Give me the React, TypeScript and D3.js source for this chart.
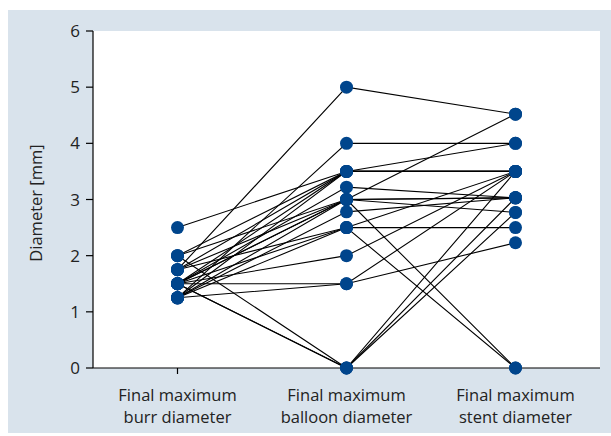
import React from "react";
import * as d3 from "d3";

const categories = ["Final maximum|burr diameter", "Final maximum|balloon diameter", "Final maximum|stent diameter"];
const burr = [1.75, 1.25, 2.5, 2.0, 1.5, 1.25, 1.75, 1.5, 1.25, 2.0, 1.5, 1.75, 1.5, 1.25, 1.5, 1.25, 1.75, 1.5, 1.5, 1.25, 2.0, 1.5, 1.5];
const balloon = [5, 4, 3.5, 3.5, 3.5, 3.5, 3.5, 3.22, 3.0, 3.0, 3.0, 3.0, 3.0, 2.78, 2.5, 2.5, 2.5, 2.0, 1.5, 1.5, 0, 0, 0];
const stent = [4.52, 4.0, 4.0, 3.5, 3.5, 3.5, 3.5, 3.03, 4.52, 3.03, 3.03, 2.77, 0, 3.03, 2.5, 3.5, 0, 3.5, 2.23, 3.5, 3.5, 3.03, 2.77];
const yTicks = [0, 1, 2, 3, 4, 5, 6];

export default function App() {
  const W = 611, H = 436;
  const x = d3.scalePoint<string>().domain(categories).range([93, 600]).padding(0.5);
  const y = d3.scaleLinear().domain([0, 6]).range([368, 31]);
  const series = [burr, balloon, stent];
  const line = d3.line<[number, number]>().x(d => d[0]).y(d => d[1]);
  const patients = burr.map((_, i) => series.map((s, j) => [x(categories[j])!, y(s[i])] as [number, number]));
  const font = "'Open Sans', 'Noto Sans', sans-serif";
  return (
    <svg width={W} height={H} style={{ position: "absolute", left: 0, top: 0 }} fontFamily={font}>
      <rect x={8} y={10} width={603} height={423} fill="#d9e3ec" />
      <rect x={93} y={31} width={507} height={337} fill="#ffffff" />
      <line x1={93} x2={93} y1={31} y2={368} stroke="#000" strokeWidth={1.2} />
      <line x1={93} x2={600} y1={368} y2={368} stroke="#000" strokeWidth={1.2} />
      {yTicks.map(t => (
        <g key={t}>
          <line x1={86} x2={93} y1={y(t)} y2={y(t)} stroke="#000" strokeWidth={1.2} />
          <text x={80} y={y(t)} dy="0.36em" textAnchor="end" fontSize={17} fill="#222">{t}</text>
        </g>
      ))}
      {categories.map(c => (
        <g key={c}>
          <line x1={x(c)} x2={x(c)} y1={368} y2={374} stroke="#000" strokeWidth={1.2} />
          {c.split("|").map((s, k) => (
            <text key={k} x={x(c)} y={401 + k * 22} textAnchor="middle" fontSize={16.5} fill="#222">{s}</text>
          ))}
        </g>
      ))}
      <text transform="translate(42,203) rotate(-90)" textAnchor="middle" fontSize={16.5} fill="#222">Diameter [mm]</text>
      {patients.map((p, i) => (
        <path key={i} d={line(p)!} fill="none" stroke="#000" strokeWidth={1.1} />
      ))}
      {series.map((s, j) =>
        s.map((v, i) => (
          <circle key={`${j}-${i}`} cx={x(categories[j])} cy={y(v)} r={6.5} fill="#00458c" />
        ))
      )}
    </svg>
  );
}
